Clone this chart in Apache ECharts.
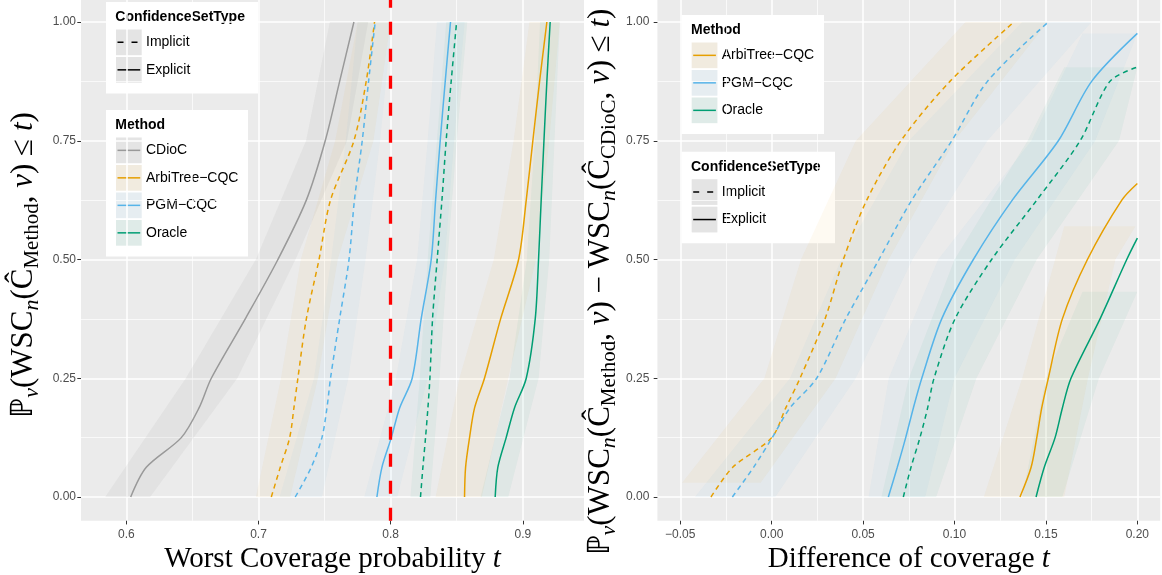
<!DOCTYPE html>
<html><head><meta charset="utf-8">
<script src="https://cdn.jsdelivr.net/npm/echarts@6/dist/echarts.min.js"></script>
<style>html,body{margin:0;padding:0;background:#fff}#c{width:1162px;height:575px}</style>
</head><body><div id="c"></div>
<script>
// ---------------- data ----------------
const probLevels = [0, 0.0625, 0.125, 0.1875, 0.25, 0.375, 0.5, 0.625, 0.75, 0.875, 1];

// Left panel: worst coverage probability t reached at each probability level
const cdiocExplicitL   = [0.6033, 0.6151, 0.6416, 0.6550, 0.6643, 0.6900, 0.7147, 0.7362, 0.7505, 0.7614, 0.7722];
const arbiImplicitL    = [0.7097, 0.7165, 0.7236, 0.7268, 0.7298, 0.7362, 0.7458, 0.7545, 0.7722, 0.7815, 0.7878];
const pgmImplicitL     = [0.7278, 0.7399, 0.7480, 0.7518, 0.7545, 0.7614, 0.7685, 0.7726, 0.7785, 0.7833, 0.7883];
const pgmExplicitL     = [0.7896, 0.7934, 0.8005, 0.8068, 0.8163, 0.8231, 0.8307, 0.8340, 0.8375, 0.8413, 0.8453];
const oracleImplicitL  = [0.8226, 0.8244, 0.8264, 0.8282, 0.8297, 0.8317, 0.8352, 0.8388, 0.8420, 0.8458, 0.8499];
const arbiExplicitL    = [0.8559, 0.8567, 0.8597, 0.8635, 0.8710, 0.8832, 0.8968, 0.9026, 0.9076, 0.9127, 0.9182];
const oracleExplicitL  = [0.8791, 0.8811, 0.8874, 0.8937, 0.9026, 0.9094, 0.9119, 0.9139, 0.9160, 0.9182, 0.9207];

// Left panel confidence bands (lower / upper t) at band levels
const bandLevelsL = [0, 0.25, 0.5, 0.75, 1];
const cdiocBandLoL  = [0.584, 0.645, 0.698, 0.736, 0.754];
const cdiocBandHiL  = [0.618, 0.684, 0.728, 0.767, 0.783];
const arbiImpBandLoL = [0.698, 0.717, 0.732, 0.758, 0.775];
const arbiImpBandHiL = [0.724, 0.745, 0.760, 0.787, 0.800];
const pgmImpBandLoL  = [0.716, 0.742, 0.755, 0.766, 0.775];
const pgmImpBandHiL  = [0.748, 0.768, 0.781, 0.792, 0.801];
const pgmExpBandLoL  = [0.780, 0.804, 0.820, 0.828, 0.835];
const pgmExpBandHiL  = [0.805, 0.828, 0.841, 0.848, 0.856];
const oraImpBandLoL  = [0.815, 0.822, 0.828, 0.835, 0.842];
const oraImpBandHiL  = [0.830, 0.837, 0.843, 0.850, 0.858];
const arbiExpBandLoL = [0.834, 0.852, 0.878, 0.893, 0.905];
const arbiExpBandHiL = [0.869, 0.889, 0.910, 0.920, 0.928];
const oraExpBandLoL  = [0.868, 0.890, 0.903, 0.909, 0.913];
const oraExpBandHiL  = [0.889, 0.912, 0.920, 0.924, 0.928];

// Right panel: difference of coverage t at each probability level (null = beyond x = 0.2)
const arbiImplicitR   = [-0.0332, -0.0213, 0.0000, 0.0077, 0.0155, 0.0292, 0.0392, 0.0520, 0.0707, 0.0975, 0.1325];
const pgmImplicitR    = [-0.0215, -0.0099, 0.0003, 0.0100, 0.0246, 0.0405, 0.0587, 0.0766, 0.0985, 0.1180, 0.1513];
const pgmExplicitR    = [0.0638, 0.0687, 0.0733, 0.0775, 0.0821, 0.0930, 0.1103, 0.1316, 0.1568, 0.1750, null];
const oracleImplicitR = [0.0720, 0.0762, 0.0811, 0.0853, 0.0888, 0.1003, 0.1203, 0.1450, 0.1687, 0.1850, null];
const arbiExplicitR   = [0.1358, 0.1419, 0.1450, 0.1477, 0.1513, 0.1590, 0.1727, 0.1915, null, null, null];
const oracleExplicitR = [0.1446, 0.1491, 0.1550, 0.1590, 0.1637, 0.1796, 0.1942, null, null, null, null];
const rightClipX = 0.2;
// probability where each right-panel curve leaves the window at t = 0.2
const endYR = { pgmExplicit: 0.976, oracleImplicit: 0.905, arbiExplicit: 0.66, oracleExplicit: 0.545 };

// Right panel confidence bands: [level, lower t, upper t]
const arbiImpBandR = [[0.03, -0.049, -0.006], [0.25, -0.004, 0.035], [0.5, 0.016, 0.064], [0.75, 0.046, 0.100], [1, 0.106, 0.151]];
const pgmImpBandR  = [[0, -0.042, 0.002], [0.25, 0.010, 0.046], [0.5, 0.038, 0.077], [0.75, 0.075, 0.118], [1, 0.137, 0.175]];
const pgmExpBandR  = [[0, 0.053, 0.084], [0.25, 0.064, 0.100], [0.5, 0.091, 0.133], [0.75, 0.142, 0.177], [0.976, 0.170, 0.200]];
const oraImpBandR  = [[0, 0.060, 0.090], [0.25, 0.075, 0.112], [0.5, 0.100, 0.145], [0.75, 0.140, 0.190], [0.905, 0.160, 0.200]];
const arbiExpBandR = [[0, 0.116, 0.160], [0.25, 0.137, 0.173], [0.5, 0.155, 0.188], [0.57, 0.160, 0.199]];
const oraExpBandR  = [[0, 0.137, 0.159], [0.25, 0.150, 0.179], [0.432, 0.170, 0.200]];

const targetCoverage = 0.8;

// ticks
const yTicks = [0, 0.25, 0.5, 0.75, 1];
const xTicksL = [0.6, 0.7, 0.8, 0.9];
const xTicksR = [-0.05, 0, 0.05, 0.10, 0.15, 0.20];

const methodNames = ['CDioC', 'ArbiTree\u2212CQC', 'PGM\u2212CQC', 'Oracle'];
const setTypeNames = ['Implicit', 'Explicit'];

// ---------------- styling ----------------
const COL = { CDioC: '#999999', Arbi: '#E69F00', PGM: '#56B4E9', Oracle: '#009E73' };
const bandAlpha = { CDioC: 0.11, Arbi: 0.05, PGM: 0.05, Oracle: 0.05 };
function rgba(hex, a) {
  const n = parseInt(hex.slice(1), 16);
  return `rgba(${(n >> 16) & 255},${(n >> 8) & 255},${n & 255},${a})`;
}
const SANS = 'Liberation Sans';
const SERIF = 'Liberation Serif';
const DASH = [5, 4];
const LW = 1.5;

function curvePoints(xs, endY) {
  const pts = [];
  xs.forEach((x, i) => { if (x !== null) pts.push([x, probLevels[i]]); });
  if (endY != null) pts.push([rightClipX, endY]);
  return pts;
}
function lineSeries(idx, xs, color, dashed, endY) {
  return {
    type: 'line', xAxisIndex: idx, yAxisIndex: idx, data: curvePoints(xs, endY),
    symbol: 'none', showSymbol: false, smooth: 0.3, silent: true, z: 3,
    lineStyle: { color: color, width: LW, type: dashed ? DASH : 'solid' }
  };
}
function bandSeries(idx, triples, fill) {
  return {
    type: 'custom', xAxisIndex: idx, yAxisIndex: idx, silent: true, z: 1, clip: true,
    data: [[triples[0][1], triples[0][0]]],
    renderItem: function (params, api) {
      const lo = triples.map(t => api.coord([t[1], t[0]]));
      const hi = triples.slice().reverse().map(t => api.coord([t[2], t[0]]));
      return { type: 'polygon', shape: { points: lo.concat(hi) }, style: { fill: fill } };
    }
  };
}
function triplesFrom(levels, lo, hi) { return levels.map((l, i) => [l, lo[i], hi[i]]); }

const GRID_TOP = -1.75, GRID_H = 522.5;
const grids = [
  { left: 81, top: GRID_TOP, width: 503, height: GRID_H, show: true, backgroundColor: '#EBEBEB', borderWidth: 0,
    containLabel: false, outerBoundsMode: 'none' },
  { left: 657.4, top: GRID_TOP, width: 502.8, height: GRID_H, show: true, backgroundColor: '#EBEBEB', borderWidth: 0,
    containLabel: false, outerBoundsMode: 'none' }
];

function xAxisDef(idx, min, max, step, ticks, fmt, titleText) {
  return {
    gridIndex: idx, type: 'value', min: min, max: max, minInterval: step, maxInterval: step,
    axisLine: { show: false, onZero: false },
    axisTick: { show: true, length: 3.7, lineStyle: { color: '#333333', width: 1 }, customValues: ticks },
    axisLabel: { color: '#4D4D4D', fontSize: 12, fontFamily: SANS, margin: 7.5, customValues: ticks, formatter: fmt },
    splitLine: { show: true, lineStyle: { color: '#FFFFFF', width: 1.5 } },
    minorTick: { show: false, splitNumber: 2 },
    minorSplitLine: { show: true, lineStyle: { color: '#FFFFFF', width: 0.7 } },
    name: '{r|' + titleText + ' }{i|t}', nameLocation: 'middle', nameGap: 21,
    nameTextStyle: { rich: {
      r: { fontFamily: SERIF, fontSize: 29, color: '#000' },
      i: { fontFamily: SERIF, fontSize: 29, fontStyle: 'italic', color: '#000' } } }
  };
}
function yAxisDef(idx, margin) {
  return {
    gridIndex: idx, type: 'value', min: -0.05, max: 1.05, minInterval: 0.25, maxInterval: 0.25,
    axisLine: { show: false, onZero: false },
    axisTick: { show: true, length: 3.7, lineStyle: { color: '#333333', width: 1 }, customValues: yTicks },
    axisLabel: { color: '#4D4D4D', fontSize: 12, fontFamily: SANS, margin: margin, customValues: yTicks,
      formatter: v => v.toFixed(2) },
    splitLine: { show: true, lineStyle: { color: '#FFFFFF', width: 1.5 } },
    minorTick: { show: false, splitNumber: 2 },
    minorSplitLine: { show: true, lineStyle: { color: '#FFFFFF', width: 0.7 } }
  };
}

const series = [
  // left bands
  bandSeries(0, triplesFrom(bandLevelsL, cdiocBandLoL, cdiocBandHiL), rgba(COL.CDioC, bandAlpha.CDioC)),
  bandSeries(0, triplesFrom(bandLevelsL, arbiImpBandLoL, arbiImpBandHiL), rgba(COL.Arbi, bandAlpha.Arbi)),
  bandSeries(0, triplesFrom(bandLevelsL, pgmImpBandLoL, pgmImpBandHiL), rgba(COL.PGM, bandAlpha.PGM)),
  bandSeries(0, triplesFrom(bandLevelsL, pgmExpBandLoL, pgmExpBandHiL), rgba(COL.PGM, bandAlpha.PGM)),
  bandSeries(0, triplesFrom(bandLevelsL, oraImpBandLoL, oraImpBandHiL), rgba(COL.Oracle, bandAlpha.Oracle)),
  bandSeries(0, triplesFrom(bandLevelsL, arbiExpBandLoL, arbiExpBandHiL), rgba(COL.Arbi, bandAlpha.Arbi)),
  bandSeries(0, triplesFrom(bandLevelsL, oraExpBandLoL, oraExpBandHiL), rgba(COL.Oracle, bandAlpha.Oracle)),
  // right bands
  bandSeries(1, arbiImpBandR, rgba(COL.Arbi, bandAlpha.Arbi)),
  bandSeries(1, pgmImpBandR, rgba(COL.PGM, bandAlpha.PGM)),
  bandSeries(1, pgmExpBandR, rgba(COL.PGM, bandAlpha.PGM)),
  bandSeries(1, oraImpBandR, rgba(COL.Oracle, bandAlpha.Oracle)),
  bandSeries(1, arbiExpBandR, rgba(COL.Arbi, bandAlpha.Arbi)),
  bandSeries(1, oraExpBandR, rgba(COL.Oracle, bandAlpha.Oracle)),
  // left curves
  lineSeries(0, cdiocExplicitL, COL.CDioC, false),
  lineSeries(0, arbiImplicitL, COL.Arbi, true),
  lineSeries(0, pgmImplicitL, COL.PGM, true),
  lineSeries(0, pgmExplicitL, COL.PGM, false),
  lineSeries(0, oracleImplicitL, COL.Oracle, true),
  lineSeries(0, arbiExplicitL, COL.Arbi, false),
  lineSeries(0, oracleExplicitL, COL.Oracle, false),
  // right curves
  lineSeries(1, arbiImplicitR, COL.Arbi, true),
  lineSeries(1, pgmImplicitR, COL.PGM, true),
  lineSeries(1, pgmExplicitR, COL.PGM, false, endYR.pgmExplicit),
  lineSeries(1, oracleImplicitR, COL.Oracle, true, endYR.oracleImplicit),
  lineSeries(1, arbiExplicitR, COL.Arbi, false, endYR.arbiExplicit),
  lineSeries(1, oracleExplicitR, COL.Oracle, false, endYR.oracleExplicit)
];
// target coverage reference line
series.push({
  type: 'line', xAxisIndex: 0, yAxisIndex: 0, data: [], z: 5, silent: true,
  markLine: { silent: true, symbol: ['none', 'none'], label: { show: false }, animation: false,
    lineStyle: { color: '#FF0000', width: 3.3, type: [13, 14] },
    data: [{ xAxis: targetCoverage }] }
});

// ---------------- legends (ggplot style boxes) ----------------
function keyFill(c, a) { return rgba(c, a); }
function legendGroup(x0, y0, w, title, entries) {
  const ch = [];
  const h = 27.5 + entries.length * 27.5 + 9;
  ch.push({ type: 'rect', shape: { x: x0, y: y0, width: w, height: h }, style: { fill: '#FFFFFF' } });
  ch.push({ type: 'text', x: x0 + 9.3, y: y0 + 15.5, style: { text: title, fill: '#000', fontSize: 14,
    fontWeight: 'bold', fontFamily: SANS, verticalAlign: 'middle', align: 'left' } });
  entries.forEach((e, i) => {
    const ky = y0 + 27.5 + i * 27.5, kx = x0 + 10, ks = 25.7;
    ch.push({ type: 'rect', shape: { x: kx, y: ky, width: ks, height: ks }, style: { fill: '#F2F2F2' } });
    ch.push({ type: 'rect', shape: { x: kx, y: ky, width: ks, height: ks }, style: { fill: e.fill } });
    ch.push({ type: 'line', shape: { x1: kx + 1.5, y1: ky + ks / 2, x2: kx + ks - 1.5, y2: ky + ks / 2 },
      style: { stroke: e.color, lineWidth: 1.5, lineDash: e.dash || null } });
    ch.push({ type: 'text', x: kx + ks + 4.3, y: ky + ks / 2, style: { text: e.label, fill: '#000', fontSize: 14,
      fontFamily: SANS, verticalAlign: 'middle', align: 'left' } });
  });
  return { type: 'group', silent: true, z: 100, children: ch };
}
const setEntries = [
  { label: setTypeNames[0], color: '#000', dash: [6, 8], fill: keyFill(COL.CDioC, 0.16) },
  { label: setTypeNames[1], color: '#000', fill: keyFill(COL.CDioC, 0.16) }
];
const methodColors = [COL.CDioC, COL.Arbi, COL.PGM, COL.Oracle];
const keyAlpha = [0.16, 0.08, 0.08, 0.08];
const methodEntriesL = methodNames.map((m, i) => ({ label: m, color: methodColors[i], fill: keyFill(methodColors[i], keyAlpha[i]) }));
const methodEntriesR = methodEntriesL.slice(1);

// y-axis titles (math-like rich text, rotated)
const yRich = {
  m: { fontFamily: SERIF, fontSize: 31, lineHeight: 38, fill: '#000' },
  i: { fontFamily: SERIF, fontSize: 31, lineHeight: 38, fontStyle: 'italic', fill: '#000' },
  s: { fontFamily: SERIF, fontSize: 21, lineHeight: 17, verticalAlign: 'bottom', fill: '#000' },
  si: { fontFamily: SERIF, fontSize: 22, lineHeight: 17, verticalAlign: 'bottom', fontStyle: 'italic', fill: '#000' }
};
const yTitleL = '{m|\u2119}{si|v}{m|(WSC}{si|n}{m|(\u0108}{s|Method}{m|, }{i|v}{m|) \u2264 }{i|t}{m|)}';
const yTitleR = '{m|\u2119}{si|v}{m|(WSC}{si|n}{m|(\u0108}{s|Method}{m|, }{i|v}{m|) \u2212 WSC}{si|n}{m|(\u0108}{s|CDioC}{m|, }{i|v}{m|) \u2264 }{i|t}{m|)}';

const graphic = [
  legendGroup(106, 2, 152, 'ConfidenceSetType', setEntries),
  legendGroup(106, 110, 142, 'Method', methodEntriesL),
  legendGroup(681.7, 15, 142.3, 'Method', methodEntriesR),
  legendGroup(681.7, 151.7, 153.3, 'ConfidenceSetType', setEntries),
  { type: 'text', x: 24, y: 265, rotation: Math.PI / 2, silent: true,
    style: { text: yTitleL, rich: yRich, align: 'center', verticalAlign: 'middle' } },
  { type: 'text', x: 601, y: 282, rotation: Math.PI / 2, silent: true,
    style: { text: yTitleR, rich: yRich, align: 'center', verticalAlign: 'middle' } }
];

const fmtL = v => v.toFixed(1);
const fmtR = v => (v < -1e-9 ? '\u2212' : '') + Math.abs(v).toFixed(2);

const option = {
  animation: false,
  backgroundColor: '#FFFFFF',
  grid: grids,
  xAxis: [
    xAxisDef(0, 0.5657, 0.9463, 0.1, xTicksL, fmtL, 'Worst Coverage probability'),
    xAxisDef(1, -0.0625, 0.2125, 0.05, xTicksR, fmtR, 'Difference of coverage')
  ],
  yAxis: [yAxisDef(0, 5), yAxisDef(1, 8)],
  series: series,
  graphic: graphic
};
const chart = echarts.init(document.getElementById('c'), null, { renderer: 'canvas' });
chart.setOption(option);
</script></body></html>
